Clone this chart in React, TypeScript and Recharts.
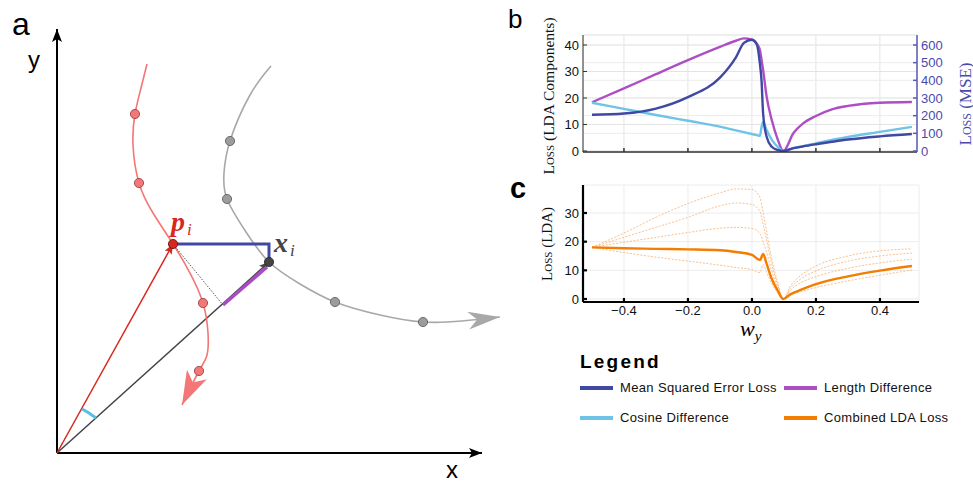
import React from "react";
import { ComposedChart, Line, Scatter, XAxis, YAxis, CartesianGrid } from "recharts";

// ---- panel a: sketch, origin at the axes corner, one unit per pixel ----
const yAxisPath: [number, number][] = [[0, 0], [0, 424]];
const xAxisPath: [number, number][] = [[0, 0], [425, 0]];
const predCurve: [number, number][] = [
  [90, 389], [84, 365], [78, 339], [76, 308], [82, 270], [96, 240], [116, 209],
  [133, 180], [146, 150], [151, 120], [150, 98], [142, 82], [125, 48],
];
const trueCurve: [number, number][] = [
  [214, 387], [193, 358], [173, 312], [167, 280], [170, 254], [189, 221], [212, 191],
  [243, 169], [278, 151], [323, 138], [366, 131], [405, 132], [443, 136],
];
const predVector: [number, number][] = [[0, 0], [116, 209]];
const trueVector: [number, number][] = [[0, 0], [212, 191]];
const projection: [number, number][] = [[116, 209], [166, 148]];
const lengthSeg: [number, number][] = [[166, 148], [210, 186]];
const mseSeg: [number, number][] = [[116, 209], [212, 209], [212, 191]];
const angleSeg: [number, number][] = [[25, 44], [32, 40], [39, 35]];
const predDots: [number, number][] = [[78, 339], [82, 270], [146, 150], [142, 82]];
const predPoint: [number, number][] = [[116, 209]];
const trueDots: [number, number][] = [[173, 312], [170, 254], [278, 151], [366, 131]];
const truePoint: [number, number][] = [[212, 191]];

// ---- panel b ----
const wyB = [-0.5, -0.4, -0.3, -0.2, -0.1, -0.05, -0.025, 0, 0.015, 0.025, 0.03, 0.035, 0.046, 0.062, 0.08, 0.098, 0.13, 0.16, 0.2, 0.25, 0.3, 0.4, 0.5];
const mseLoss = [205, 212, 240, 305, 415, 530, 612, 630, 605, 494, 400, 212, 81, 24, 6, 0, 16, 26, 38, 52, 65, 83, 96];
const lengthDiff = [18.4, 23.6, 29, 34.3, 39.3, 41.6, 42.5, 42, 40.5, 38.1, 34.5, 30.6, 20.5, 11.7, 4.6, 0, 6.8, 10.4, 13.2, 15.7, 17, 18.2, 18.5];
const cosineDiff = [18.2, 15.9, 13.6, 11.4, 9.2, 7.8, 7.1, 6.4, 6, 5.7, 9, 11, 7.9, 4.3, 1.6, 0, 1.1, 1.8, 2.9, 4.2, 5.3, 7.2, 9.1];

// ---- panel c ----
const wyC = [-0.5, -0.4, -0.3, -0.2, -0.1, -0.05, 0, 0.025, 0.035, 0.045, 0.06, 0.08, 0.098, 0.12, 0.15, 0.2, 0.3, 0.4, 0.5];
const combinedLoss = [18, 17.7, 17.5, 17.3, 17, 16.4, 15.4, 13.6, 15.7, 12.6, 7.5, 3, 0, 1.6, 3.1, 5.2, 7.9, 9.9, 11.5];
const variantA = [18, 23, 28.5, 33.3, 37, 38.4, 38.2, 35.5, 30, 24, 15, 6, 0, 4.5, 8, 11.5, 15, 16.8, 17.5];
const variantB = [18, 21.5, 25, 28.5, 32.5, 33.5, 33, 30.5, 26, 21, 13, 5, 0, 3.8, 6.8, 9.8, 13.2, 15, 16];
const variantC = [18, 19.8, 21.5, 23.2, 24.7, 25, 24.6, 22.8, 20, 16.5, 10.5, 4, 0, 3, 5.5, 7.8, 10.7, 12.6, 13.9];
const variantD = [18, 16.2, 14.6, 13.2, 11.8, 11, 10.2, 9.2, 12, 9.5, 5.8, 2.2, 0, 1.5, 2.5, 4, 6.3, 8.3, 10.1];

const wTicks = [-0.4, -0.2, 0, 0.2, 0.4];
const ldaTicksB = [0, 10, 20, 30, 40];
const mseTicks = [0, 100, 200, 300, 400, 500, 600];
const ldaTicksC = [0, 10, 20, 30];

const legendItems = [
  { label: "Mean Squared Error Loss", color: "#3f48a3" },
  { label: "Length Difference", color: "#ad4fc4" },
  { label: "Cosine Difference", color: "#6fc3e6" },
  { label: "Combined LDA Loss", color: "#f27d00" },
];

const pts = (p: [number, number][]) => p.map(([x, y]) => ({ x, y }));
const fmtW = (v: number) => (v < 0 ? `\u2212${Math.abs(v).toFixed(1)}` : v.toFixed(1));

const sans = "'Liberation Sans', Arial, Helvetica, sans-serif";
const serif = "'Liberation Serif', 'DejaVu Serif', serif";
const tickFont = { fontSize: 13, fontFamily: sans, fill: "#111" };

const bData = wyB.map((w, i) => ({ w, mse: mseLoss[i], len: lengthDiff[i], cos: cosineDiff[i] }));
const cData = wyC.map((w, i) => ({
  w, comb: combinedLoss[i], a: variantA[i], b: variantB[i], c: variantC[i], d: variantD[i],
}));

function Head({ id, w, h, notch, color }: { id: string; w: number; h: number; notch: number; color: string }) {
  return (
    <marker id={id} viewBox={`0 0 ${w} ${h}`} refX={w} refY={h / 2} markerWidth={w} markerHeight={h}
      markerUnits="userSpaceOnUse" orient="auto">
      <path d={`M0,0 L${w},${h / 2} L0,${h} L${notch},${h / 2} Z`} fill={color} />
    </marker>
  );
}

const dot = (fill: string, stroke: string, r: number) => (p: any) =>
  <circle cx={p.cx} cy={p.cy} r={r} fill={fill} stroke={stroke} strokeWidth={0.8} />;

function Sketch() {
  const seg = (d: [number, number][], stroke: string, width: number, extra: any = {}) => (
    <Line data={pts(d)} dataKey="y" type="linear" stroke={stroke} strokeWidth={width}
      dot={false} activeDot={false} isAnimationActive={false} {...extra} />
  );
  return (
    <ComposedChart width={510} height={485} margin={{ top: 0, right: 0, bottom: 0, left: 0 }}>
      <defs>
        <Head id="hAxis" w={13} h={10} notch={3} color="#000" />
        <Head id="hPred" w={34} h={22} notch={9} color="#f57676" />
        <Head id="hTrue" w={32} h={18} notch={9} color="#a8a8a8" />
        <Head id="hRed" w={10} h={8} notch={2} color="#d8271c" />
        <Head id="hDark" w={10} h={8} notch={2} color="#444" />
      </defs>
      <XAxis dataKey="x" type="number" domain={[-57, 453]} hide allowDataOverflow />
      <YAxis dataKey="y" type="number" domain={[-32, 453]} hide allowDataOverflow />
      {seg(yAxisPath, "#000", 2, { markerEnd: "url(#hAxis)" })}
      {seg(xAxisPath, "#000", 2, { markerEnd: "url(#hAxis)" })}
      {seg(trueVector, "#444", 1.5, { markerEnd: "url(#hDark)" })}
      {seg(predVector, "#d8271c", 1.5, { markerEnd: "url(#hRed)" })}
      {seg(predCurve, "#f57676", 1.6, { type: "natural", markerEnd: "url(#hPred)" })}
      {seg(trueCurve, "#a8a8a8", 1.6, { type: "natural", markerEnd: "url(#hTrue)" })}
      {seg(projection, "#555", 1, { strokeDasharray: "1.5 1.5" })}
      {seg(lengthSeg, "#a84cc4", 3.5)}
      {seg(mseSeg, "#3f48a3", 3, { strokeLinejoin: "miter", strokeLinecap: "butt" })}
      {seg(angleSeg, "#5bbde3", 3)}
      <Scatter data={pts(predDots)} dataKey="y" isAnimationActive={false} shape={dot("#f57676", "#8b3a3a", 4.6)} />
      <Scatter data={pts(trueDots)} dataKey="y" isAnimationActive={false} shape={dot("#9c9c9c", "#555", 4.6)} />
      <Scatter data={pts(predPoint)} dataKey="y" isAnimationActive={false} shape={dot("#d8271c", "#5a1010", 4.6)} />
      <Scatter data={pts(truePoint)} dataKey="y" isAnimationActive={false} shape={dot("#444", "#222", 4.6)} />
    </ComposedChart>
  );
}

function PanelB() {
  return (
    <ComposedChart width={420} height={165} data={bData} margin={{ top: 35, right: 0, bottom: 0, left: 0 }}>
      <CartesianGrid yAxisId="lda" stroke="#e4e4e4" />
      <CartesianGrid yAxisId="mse" stroke="#ececec" vertical={false} />
      <XAxis dataKey="w" type="number" domain={[-0.528, 0.516]} ticks={wTicks} allowDataOverflow interval={0}
        tickFormatter={() => ""} height={13} tickSize={-4} stroke="#333" strokeWidth={1.5} />
      <YAxis yAxisId="lda" type="number" domain={[-0.38, 43.77]} ticks={ldaTicksB} allowDataOverflow interval={0}
        width={43} tickSize={-4} tickMargin={8} tick={tickFont} stroke="#333" />
      <YAxis yAxisId="mse" orientation="right" type="number" domain={[-5.7, 656.6]} ticks={mseTicks}
        allowDataOverflow interval={0} width={43} tickSize={-4} tickMargin={8}
        tick={{ ...tickFont, fill: "#4a4aae" }} stroke="#5a5ab8" strokeWidth={1.5} />
      <Line yAxisId="lda" dataKey="len" type="monotone" stroke="#ad4fc4" strokeWidth={2.4}
        dot={false} activeDot={false} isAnimationActive={false} />
      <Line yAxisId="lda" dataKey="cos" type="monotone" stroke="#6fc3e6" strokeWidth={2.4}
        dot={false} activeDot={false} isAnimationActive={false} />
      <Line yAxisId="mse" dataKey="mse" type="monotone" stroke="#3f48a3" strokeWidth={2.4}
        dot={false} activeDot={false} isAnimationActive={false} />
    </ComposedChart>
  );
}

function PanelC() {
  const variant = (k: string) => (
    <Line dataKey={k} type="monotone" stroke="#f5a55a" strokeOpacity={0.7} strokeWidth={1}
      strokeDasharray="2 1.5" dot={false} activeDot={false} isAnimationActive={false} />
  );
  return (
    <ComposedChart width={420} height={175} data={cData} margin={{ top: 35, right: 41, bottom: 0, left: 0 }}>
      <CartesianGrid stroke="#ececec" />
      <XAxis dataKey="w" type="number" domain={[-0.528, 0.522]} ticks={wTicks} allowDataOverflow interval={0}
        tickFormatter={fmtW} height={23} tickSize={-4} tickMargin={8} tick={tickFont}
        stroke="#000" strokeWidth={2.2} />
      <YAxis type="number" domain={[-1.05, 39.77]} ticks={ldaTicksC} allowDataOverflow interval={0}
        width={43} tickSize={-4} tickMargin={8} tick={tickFont} stroke="#000" strokeWidth={2.2} />
      {variant("a")}
      {variant("b")}
      {variant("c")}
      {variant("d")}
      <Line dataKey="comb" type="monotone" stroke="#f27d00" strokeWidth={2.4}
        dot={false} activeDot={false} isAnimationActive={false} />
    </ComposedChart>
  );
}

const abs = (left: number, top: number, extra: React.CSSProperties = {}): React.CSSProperties => ({
  position: "absolute", left, top, lineHeight: 1, whiteSpace: "nowrap", ...extra,
});

function VLabel({ cx, cy, color, size, children }: { cx: number; cy: number; color: string; size: number; children: React.ReactNode }) {
  return (
    <div style={abs(cx, cy, {
      transform: "translate(-50%, -50%) rotate(-90deg)", color, fontSize: size, fontFamily: serif,
    })}>{children}</div>
  );
}

const sc = (t: string) => <span style={{ fontVariant: "small-caps" }}>{t}</span>;

export default function App() {
  return (
    <div style={{ position: "absolute", left: 0, top: 0, width: 973, height: 485, background: "#fff", overflow: "hidden" }}>
      <div style={abs(0, 0)}><Sketch /></div>
      <div style={abs(540, 0)}><PanelB /></div>
      <div style={abs(540, 150)}><PanelC /></div>

      <div style={abs(12, 8, { fontSize: 32, fontFamily: sans })}>a</div>
      <div style={abs(28, 48, { fontSize: 24, fontFamily: sans })}>y</div>
      <div style={abs(446, 458, { fontSize: 24, fontFamily: sans })}>x</div>
      <div style={abs(171, 208, { fontFamily: serif, color: "#d8271c" })}>
        <span style={{ fontSize: 28, fontWeight: "bold", fontStyle: "italic" }}>p</span>
        <span style={{ fontSize: 17, fontStyle: "italic", position: "relative", top: 4, marginLeft: 2 }}>i</span>
      </div>
      <div style={abs(274, 229, { fontFamily: serif, color: "#444" })}>
        <span style={{ fontSize: 28, fontWeight: "bold", fontStyle: "italic" }}>x</span>
        <span style={{ fontSize: 17, fontStyle: "italic", position: "relative", top: 4, marginLeft: 2 }}>i</span>
      </div>

      <div style={abs(508, 6, { fontSize: 26, fontFamily: sans })}>b</div>
      <div style={abs(510, 174, { fontSize: 29, fontFamily: sans, fontWeight: "bold" })}>c</div>

      <VLabel cx={549} cy={96} color="#111" size={15.5}>{sc("Loss")} (LDA Components)</VLabel>
      <VLabel cx={965} cy={104} color="#4a4aae" size={17}>{sc("Loss")} (MSE)</VLabel>
      <VLabel cx={547} cy={244} color="#111" size={15}>{sc("Loss")} (LDA)</VLabel>
      <div style={abs(740, 318, { fontFamily: serif, fontStyle: "italic", fontSize: 22 })}>
        w<span style={{ fontSize: 15, position: "relative", top: 5 }}>y</span>
      </div>

      <div style={abs(580, 352, { fontSize: 19, fontWeight: "bold", fontFamily: sans, letterSpacing: 2.2 })}>Legend</div>
      {legendItems.map((it, i) => {
        const col = i % 2;
        const row = Math.floor(i / 2);
        const x = col === 0 ? 580 : 784;
        const y = row === 0 ? 388 : 418;
        return (
          <React.Fragment key={it.label}>
            <div style={abs(x, y - 2, { width: 33, height: 4, background: it.color })} />
            <div style={abs(x + 40, y - 7, { fontSize: 13, fontFamily: sans, letterSpacing: 0.35, color: "#111" })}>{it.label}</div>
          </React.Fragment>
        );
      })}
    </div>
  );
}
